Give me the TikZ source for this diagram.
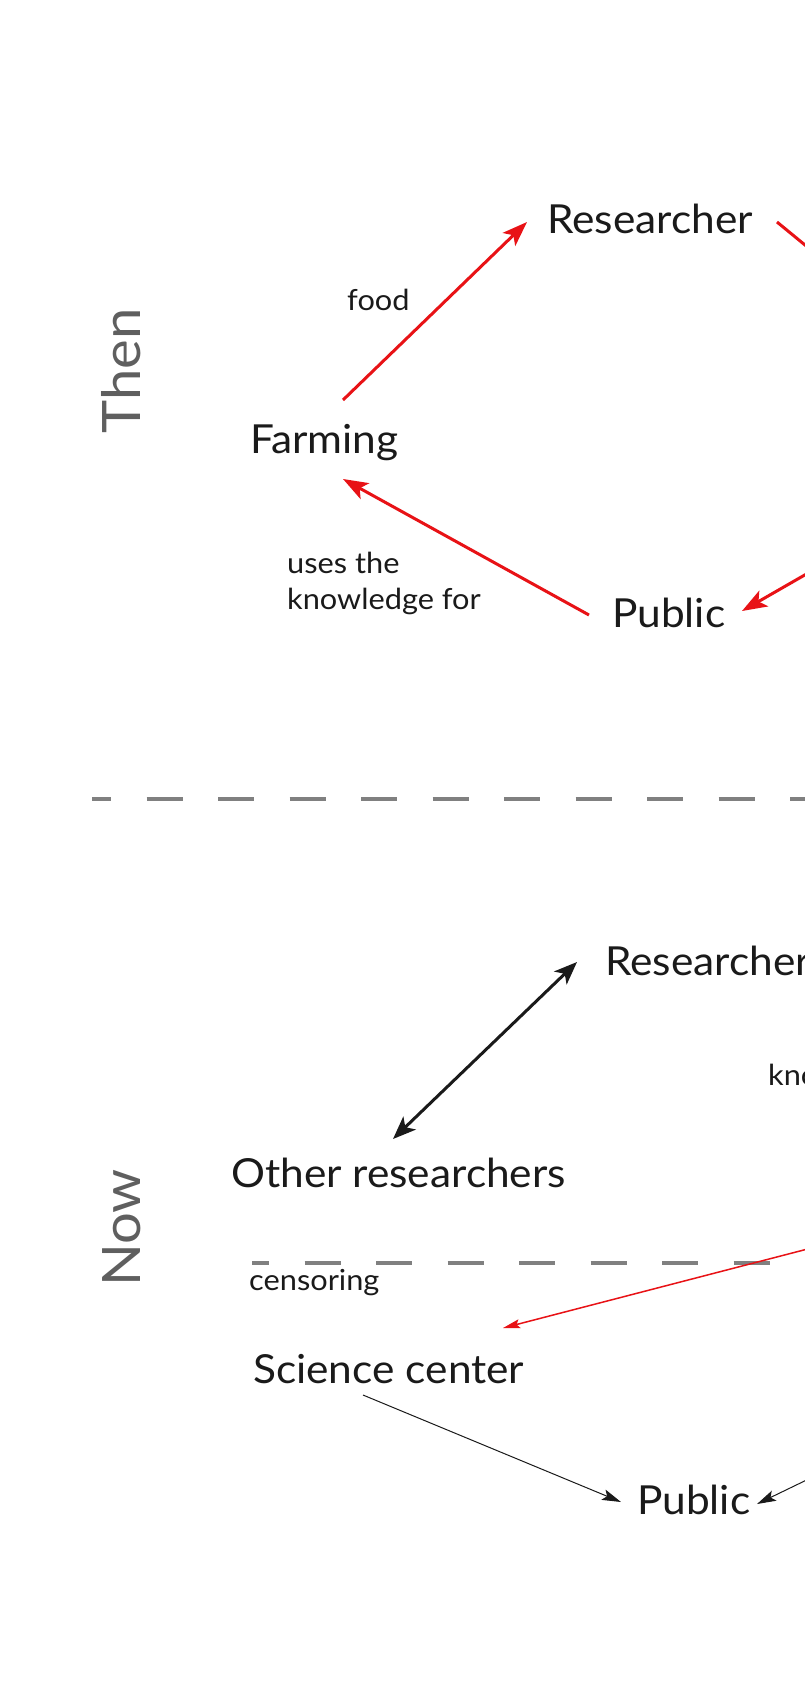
\documentclass[tikz,border=0pt]{standalone}
\usepackage{fontspec}
\setmainfont{Lato}[FakeStretch=1.06]
\usetikzlibrary{arrows.meta}
\definecolor{redc}{RGB}{232,18,22}
\definecolor{inkc}{RGB}{26,26,26}
\definecolor{sidec}{RGB}{95,95,95}
\definecolor{divc}{RGB}{128,128,128}
\tikzset{
  big/.style={font=\fontsize{40}{48}\selectfont, inner sep=0pt, anchor=base west, text=inkc},
  small/.style={font=\fontsize{29}{35}\selectfont, inner sep=0pt, anchor=base west, text=inkc},
  sidelabel/.style={font=\fontsize{53}{60}\selectfont, inner sep=0pt, rotate=90, anchor=base, text=sidec},
  redthick/.style={draw=redc, line width=3pt, -{Stealth[length=25pt,width=18pt,inset=6pt]}},
  redline/.style={draw=redc, line width=3pt},
  blackthick/.style={draw=inkc, line width=3pt, {Stealth[length=23pt,width=18pt,inset=6pt]}-{Stealth[length=23pt,width=18pt,inset=6pt]}},
  redthin/.style={draw=redc, line width=1.5pt, -{Stealth[length=17pt,width=9pt,inset=3pt]}},
  thinarrow/.style={draw=inkc, line width=1pt, -{Stealth[length=19pt,width=11pt,inset=4pt]}},
  divider/.style={draw=divc, line width=3.5pt, dash pattern=on 36pt off 35.5pt}
}
\begin{document}
\begin{tikzpicture}[x=1pt,y=-1pt]
\useasboundingbox (0,0) rectangle (805,1708);
\clip (0,0) rectangle (805,1708);
\fill[white] (0,0) rectangle (805,1708);

% ---------- Then ----------
\node[sidelabel] (then) at (140,371) {Then};
\node[big] (res1) at (547,233) {Researcher};
\node[big] (farm) at (250,453) {Farming};
\node[big] (pub1) at (612,627) {Public};
\node[small] (food) at (347,310) {food};
\node[small] (uses1) at (287,573) {uses the};
\node[small] (uses2) at (287,609) {knowledge for};

\coordinate (farmTop) at (343,400);
\coordinate (resLeft) at (527,222);
\coordinate (resRight) at (777,222);
\coordinate (offA) at (850,282);
\coordinate (offB) at (850,549);
\coordinate (pubRight) at (742,611);
\coordinate (pubLeft) at (589,615);
\coordinate (farmBottom) at (343,479);

\draw[redthick] (farmTop) -- (resLeft);
\draw[redline] (resRight) -- (offA);
\draw[redthick] (offB) -- (pubRight);
\draw[redthick] (pubLeft) -- (farmBottom);

% divider
\draw[divider, dash phase=17pt] (92,799) -- (830,799);

% ---------- Now ----------
\node[sidelabel] (now) at (140,1228) {Now};
\node[big] (res2) at (605,975) {Researcher};
\node[small] (kno) at (768,1085) {kno};
\node[big] (other) at (231,1187) {Other researchers};
\node[small] (cens) at (249,1290) {censoring};
\node[big] (sci) at (253,1383) {Science center};
\node[big] (pub2) at (637,1514) {Public};

\coordinate (otherTop) at (393,1139);
\coordinate (res2Left) at (577,962);
\coordinate (offC) at (850,1238);
\coordinate (sciTip) at (503,1328);
\coordinate (sciBottom) at (363,1395);
\coordinate (pub2Left) at (621,1502);
\coordinate (offD) at (850,1459);
\coordinate (pub2Right) at (757,1504);

\draw[blackthick] (otherTop) -- (res2Left);
\draw[divider, dash phase=19pt] (252,1263) -- (774,1263);
\draw[redthin] (offC) -- (sciTip);
\draw[thinarrow] (sciBottom) -- (pub2Left);
\draw[thinarrow] (offD) -- (pub2Right);
\end{tikzpicture}
\end{document}
